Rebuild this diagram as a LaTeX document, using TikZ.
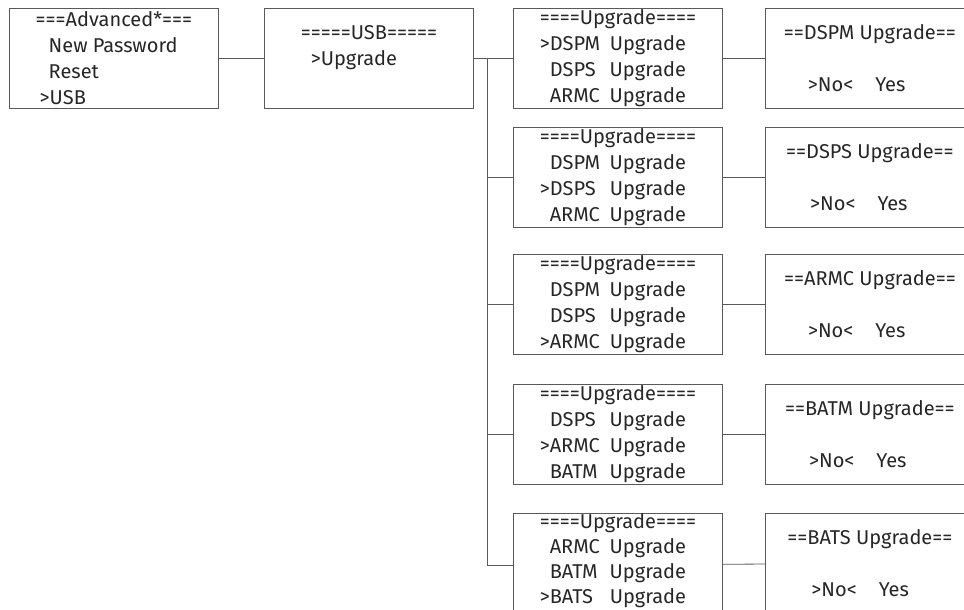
\documentclass[tikz,border=0pt]{standalone}
\usepackage{fontspec}
\setmainfont{Fira Sans}
\tikzset{menu/.style={draw=black!65,minimum width=209pt,minimum height=100pt,anchor=north west,align=left,inner sep=0pt,text=black!85,font=\fontsize{20}{26}\selectfont}}
\newcommand\up[2]{\makebox[10pt][l]{#1}\makebox[60pt][l]{#2}Upgrade}
\newcommand\hd{====Upgrade====}
\begin{document}
\begin{tikzpicture}[x=1pt,y=-1pt,line width=.8pt]
\useasboundingbox (0,0) rectangle (964,610); \clip (0,0) rectangle (964,610);
\node[menu] (adv) at (9,8) {===Advanced*===\\ \hspace*{13pt}New Password\\ \hspace*{13pt}Reset\\ \hspace*{4pt}>USB};
\node[menu] (usb) at (264,8) {=====USB=====\\ \hspace*{10pt}>Upgrade\\ \mbox{}};
\node[menu] (up1) at (513,8) {\hd\\ \up{>}{DSPM}\\ \up{}{DSPS}\\ \up{}{ARMC}};
\node[menu] (up2) at (513,127) {\hd\\ \up{}{DSPM}\\ \up{>}{DSPS}\\ \up{}{ARMC}};
\node[menu] (up3) at (513,254) {\hd\\ \up{}{DSPM}\\ \up{}{DSPS}\\ \up{>}{ARMC}};
\node[menu] (up4) at (513,384) {\hd\\ \up{}{DSPS}\\ \up{>}{ARMC}\\ \up{}{BATM}};
\node[menu,font=\fontsize{20}{25}\selectfont] (up5) at (513,513) {\hd\\ \up{}{ARMC}\\ \up{}{BATM}\\ \up{>}{BATS}\\[-12pt]\mbox{}};
\foreach \i/\t/\n in {1/8/DSPM,2/127/DSPS,3/254/ARMC,4/384/BATM,5/513/BATS}
  \node[menu] (cf\i) at (765,\t) {==\n\ Upgrade==\\[26pt]\hspace*{24pt}>No<\hspace{22pt}Yes};
\coordinate (t) at (487,0);
\draw[black!65] (adv) -- (usb) (usb) -- (up1) (t |- up1.west) -- (t |- up5.west);
\foreach \i in {2,...,5} \draw[black!65] (t |- up\i.west) -- (up\i);
\foreach \i in {1,...,5} \draw[black!65] (up\i) -- (cf\i);
\end{tikzpicture}
\end{document}
